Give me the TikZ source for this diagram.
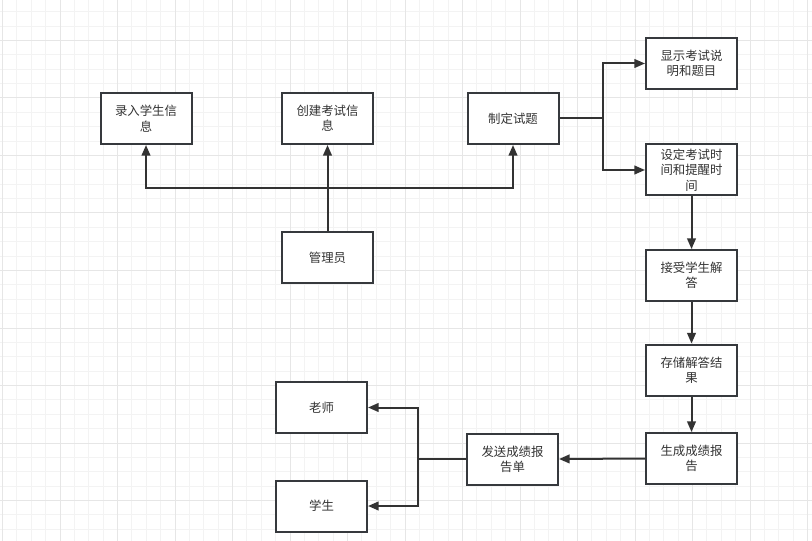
\documentclass[tikz,border=0pt]{standalone}
\usepackage{fontspec}
\newfontfamily\cjk{Noto Sans CJK SC}
\usetikzlibrary{arrows.meta}
\definecolor{boxline}{HTML}{36393D}
\definecolor{txt}{HTML}{333333}
\definecolor{gridminor}{HTML}{F3F3F3}
\definecolor{gridmajor}{HTML}{E6E6E6}
\tikzset{
  stepbox/.style={draw=boxline, line width=1.5pt, fill=white, minimum width=91*0.75pt, minimum height=51*0.75pt,
    inner sep=0pt, align=center, text=txt, font=\cjk\fontsize{9.3pt}{11.5pt}\selectfont},
  conn/.style={draw=txt, line width=1.5pt},
  arr/.style={conn, -{Triangle[length=8pt,width=6.5pt]}},
}
\begin{document}
\begin{tikzpicture}[x=0.75pt,y=-0.75pt]
\useasboundingbox (0,0) rectangle (812,541);
\fill[white] (0,0) rectangle (812,541);
% grid
\foreach \i in {0,...,56} { \draw[gridminor, line width=0.75pt] ({2.5+14.375*\i},0) -- ++(0,541); }
\foreach \j in {0,...,36} { \draw[gridminor, line width=0.75pt] (0,{11.75+14.375*\j}) -- ++(812,0); }
\foreach \i in {0,...,14} { \draw[gridmajor, line width=0.75pt] ({2.5+57.5*\i},0) -- ++(0,541); }
\foreach \j in {0,...,8} { \draw[gridmajor, line width=0.75pt] (0,{40.5+57.5*\j}) -- ++(812,0); }
% nodes
\node[stepbox] (lr) at (146,118.5) {录入学生信\\息};
\node[stepbox] (cj) at (327.5,118.5) {创建考试信\\息};
\node[stepbox] (zd) at (513,118.5) {制定试题};
\node[stepbox] (xs) at (691.5,63.5) {显示考试说\\明和题目};
\node[stepbox] (sd) at (691.5,170) {设定考试时\\间和提醒时\\间};
\node[stepbox] (gl) at (327.5,257.5) {管理员};
\node[stepbox] (js) at (691.5,275.5) {接受学生解\\答};
\node[stepbox] (cc) at (691.5,370) {存储解答结\\果};
\node[stepbox] (sc) at (691.5,458.5) {生成成绩报\\告};
\node[stepbox] (fs) at (512.5,459) {发送成绩报\\告单};
\node[stepbox] (ls) at (321.5,407.5) {老师};
\node[stepbox] (xsh) at (321.5,506) {学生};
% junctions
\coordinate (j1) at (327.5,188);
\coordinate (j2) at (603,118.5);
\coordinate (j3) at (418,459);
% connectors
\draw[conn] (gl.north) -- (j1);
\draw[arr] (j1) -- (cj.south);
\draw[arr] (j1) -| (lr.south);
\draw[arr] (j1) -| (zd.south);
\draw[conn] (zd.east) -- (j2);
\draw[arr] (j2) |- (xs.west);
\draw[arr] (j2) |- (sd.west);
\draw[arr] (sd.south) -- (js.north);
\draw[arr] (js.south) -- (cc.north);
\draw[arr] (cc.south) -- (sc.north);
\draw[arr] (sc.west) -- (fs.east);
\draw[conn] (fs.west) -- (j3);
\draw[arr] (j3) |- (ls.east);
\draw[arr] (j3) |- (xsh.east);
\end{tikzpicture}
\end{document}
